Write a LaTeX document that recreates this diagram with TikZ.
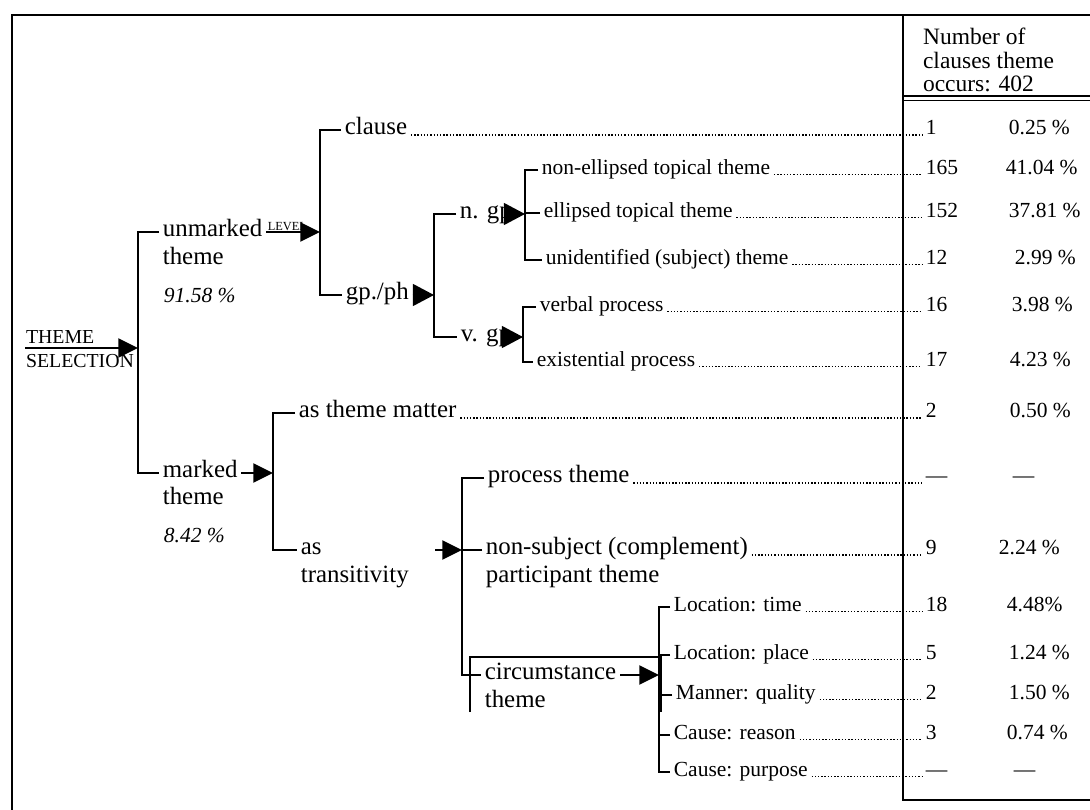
\documentclass[tikz,border=0pt]{standalone}
\usepackage{fontspec}
\setmainfont{Liberation Serif}
\usepackage{tikz}
\usetikzlibrary{arrows.meta}

\newcommand{\fbig}{\fontsize{17.7}{20}\selectfont}
\newcommand{\fmed}{\fontsize{15.3}{17}\selectfont}
\newcommand{\fsel}{\fontsize{14.1}{15}\selectfont}
\newcommand{\flev}{\fontsize{8.8}{9}\selectfont}
\newcommand{\fhead}{\fontsize{16.7}{16.7}\selectfont}

\begin{document}
\begin{tikzpicture}[x=0.25mm,y=-0.25mm,>={Triangle[length=14pt,width=13.5pt]},line width=1.5pt]

% Stili per testi, puntini e frecce
\tikzset{
  bigtext/.style={font=\fbig, anchor=west, inner xsep=2pt, inner ysep=0pt, text height=10pt, text depth=3pt},
  smalltext/.style={font=\fmed, anchor=west, inner xsep=2pt, inner ysep=0pt, text height=9pt, text depth=2.6pt},
  pcttext/.style={smalltext, font=\fmed\itshape},
  leader/.style={line width=1pt, dash pattern=on 1pt off 1.3pt},
  bigarrow/.style={-{Triangle[length=15pt,width=15.5pt]}}
}

\useasboundingbox (0,0) rectangle (1090,810);

% --- Cornice e tabella ---
\draw[line width=1.6pt] (12,810) -- (12,15) -- (1090,15);
\draw[line width=1.6pt] (903,15) -- (903,800) -- (1090,800);
\draw[line width=2pt] (903,96) -- (1090,96);
\draw[line width=0.8pt] (903,100.5) -- (1090,100.5);
\node[font=\fhead, align=left, anchor=north west, inner sep=0pt] (head) at (922,27) {Number of\\clauses theme\\occurs: 402};

% --- Selezione del tema ---
\node[font=\fsel, anchor=base west, inner sep=0pt] (sel) at (25,343) {THEME};
\node[font=\fsel, anchor=base west, inner sep=0pt] (sel2) at (25,367) {SELECTION};
\coordinate (selin) at (25,348);
\coordinate (j0) at (138,348);
\draw[->] (selin) -- (j0);

\node[bigtext] (unm) at (159,232) {unmarked};
\node[bigtext] (unm2) at (159,260) {theme};
\node[pcttext] (pc1) at (160,298) {91.58 \%};
\node[bigtext] (mkd) at (159,473) {marked};
\node[bigtext] (mkd2) at (159,500) {theme};
\node[pcttext] (pc2) at (160,538) {8.42 \%};
\draw (unm.west) -| (j0) |- (mkd.west);

% --- Tema non marcato ---
\coordinate (j1) at (320,232);
\draw[->] (unm.east) -- node[font=\flev, pos=0, anchor=south west, inner sep=0.4pt] (lev) {LEVEL} (j1);

\node[bigtext] (cls) at (341,130) {clause};
\node[bigtext] (gph) at (342,295) {gp./ph};
\draw (cls.west) -| (j1) |- (gph.west);

\coordinate (j2) at (434,295);
\draw[bigarrow] (gph.east) -- (j2);
\node[bigtext] (ngp) at (456,214) {n. gp};
\node[bigtext] (vgp) at (457,337) {v. gp};
\draw (ngp.west) -| (j2) |- (vgp.west);

\coordinate (j3) at (525,214);
\draw[bigarrow] (ngp.east) -- (j3);
\node[smalltext] (ne) at (538,170) {non-ellipsed topical theme};
\node[smalltext] (el) at (540,213) {ellipsed topical theme};
\node[smalltext] (un) at (542,260) {unidentified (subject) theme};
\draw (ne.west) -| (j3) |- (un.west);
\draw (el.west) -- (el.west -| j3);

\coordinate (j4) at (523,337);
\draw[bigarrow] (vgp.east) -- (j4);
\node[smalltext] (vb) at (536,307) {verbal process};
\node[smalltext] (ex) at (533,362) {existential process};
\draw (vb.west) -| (j4) |- (ex.west);

% --- Tema marcato ---
\coordinate (j5) at (273,473);
\draw[->] (mkd.east) -- (j5);
\node[bigtext] (atm) at (295,413) {as theme matter};
\node[bigtext] (ast) at (297,550) {as};
\node[bigtext] (ast2) at (297,578) {transitivity};
\draw (atm.west) -| (j5) |- (ast.west);

\coordinate (trin) at (435,550);
\coordinate (j6) at (462,550);
\draw[->] (trin) -- (j6);
\node[bigtext] (prc) at (484,478) {process theme};
\node[bigtext] (ns) at (482,550) {non-subject (complement)};
\node[bigtext] (ns2) at (482,578) {participant theme};
\node[bigtext] (cir) at (481,675) {circumstance};
\node[bigtext] (cir2) at (481,703) {theme};
\draw (prc.west) -| (j6) |- (cir.west);
\draw (ns.west) -- (ns.west -| j6);

% riquadro aperto attorno a circumstance
\coordinate (bxa) at (470,712);
\coordinate (bxb) at (470,657);
\coordinate (bxc) at (661,657);
\coordinate (bxd) at (661,712);
\draw[line width=1.2pt] (bxa) -- (bxb) -- (bxc) -- (bxd);

\coordinate (j7) at (659,675);
\draw[->] (cir.east) -- (j7);
\node[smalltext] (lt) at (670,607) {Location: time};
\node[smalltext] (lp) at (670,655) {Location: place};
\node[smalltext] (mq) at (672,695) {Manner: quality};
\node[smalltext] (cr) at (670,735) {Cause: reason};
\node[smalltext] (cp) at (670,772) {Cause: purpose};
\draw (lt.west) -| (j7) |- (cp.west);
\foreach \n in {lp,mq,cr}
  \draw (\n.west) -- (\n.west -| j7);

% --- Valori della tabella ---
\foreach \y/\num/\px/\pc [count=\i] in {130/1/1005/0.25 \%, 170/165/1002/41.04 \%,
    213/152/1005/37.81 \%, 260/12/1011/2.99 \%, 307/16/1008/3.98 \%, 362/17/1006/4.23 \%,
    413/2/1006/0.50 \%, 478/—/1009/—, 550/9/995/2.24 \%, 607/18/1003/4.48\%,
    655/5/1005/1.24 \%, 695/2/1005/1.50 \%, 735/3/1003/0.74 \%, 772/—/1010/—}{
  \node[smalltext] (n\i) at (922,\y) {\num};
  \node[smalltext] (p\i) at (\px,\y) {\pc};
}

% Puntini di collegamento
\foreach \a/\b in {cls/1, ne/2, el/3, un/4, vb/5, ex/6, atm/7, prc/8, ns/9,
    lt/10, lp/11, mq/12, cr/13, cp/14}
  \draw[leader] (\a.base east) -- (\a.base east -| n\b.west);

\end{tikzpicture}
\end{document}
